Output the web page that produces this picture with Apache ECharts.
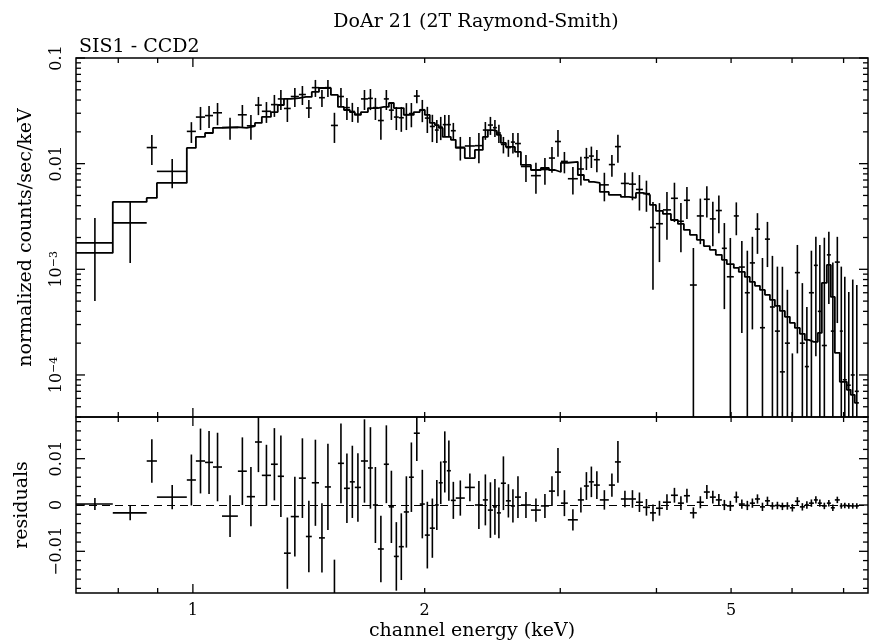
<!DOCTYPE html>
<html lang="en">
<head>
<meta charset="UTF-8" />
<title>DoAr 21 (2T Raymond-Smith)</title>
<script src="https://cdn.jsdelivr.net/npm/echarts@6/dist/echarts.min.js"></script>
<style>html, body { margin: 0; background: #fff; }</style>
</head>
<body>
<div id="main" style="width: 870px; height: 644px"></div>
<script type="text/javascript">
// Channel bin edges (keV), one more than the number of bins.
const edges = [0.705, 0.787, 0.871, 0.898, 0.982, 1.009, 1.037, 1.062, 1.091, 1.144,
  1.175, 1.204, 1.229, 1.263, 1.289, 1.313, 1.340, 1.373, 1.402, 1.427,
  1.458, 1.484, 1.511, 1.543, 1.571, 1.599, 1.623, 1.653, 1.688, 1.713,
  1.739, 1.770, 1.797, 1.824, 1.851, 1.879, 1.908, 1.936, 1.971, 2.001,
  2.031, 2.062, 2.086, 2.111, 2.137, 2.163, 2.195, 2.255, 2.324, 2.380,
  2.416, 2.453, 2.482, 2.512, 2.550, 2.588, 2.620, 2.667, 2.748, 2.831,
  2.900, 2.953, 3.006, 3.069, 3.162, 3.220, 3.268, 3.317, 3.377, 3.469,
  3.533, 3.596, 3.684, 3.762, 3.841, 3.923, 3.994, 4.078, 4.177, 4.265,
  4.342, 4.421, 4.513, 4.609, 4.692, 4.777, 4.864, 4.937, 5.041, 5.117,
  5.210, 5.288, 5.370, 5.451, 5.533, 5.616, 5.700, 5.786, 5.873, 5.961,
  6.051, 6.142, 6.234, 6.310, 6.405, 6.481, 6.559, 6.658, 6.738, 6.819,
  6.921, 6.983, 7.068, 7.151, 7.238, 7.326];

// Normalized counts/sec/keV per bin and its 1-sigma error.
const rate = [0.00178, 0.00275, 0.0142, 0.00845, 0.0202, 0.0276, 0.0285, 0.0303, 0.0220, 0.0290,
  0.0228, 0.0358, 0.0313, 0.0362, 0.0410, 0.0333, 0.0432, 0.0451, 0.0336, 0.0524,
  0.0421, 0.0524, 0.0230, 0.0432, 0.0339, 0.0312, 0.0294, 0.0410, 0.0415, 0.0339,
  0.0256, 0.0410, 0.0321, 0.0276, 0.0272, 0.0291, 0.0298, 0.0436, 0.0324, 0.0270,
  0.0225, 0.0208, 0.0222, 0.0234, 0.0234, 0.0205, 0.0143, 0.0147, 0.0148, 0.0208,
  0.0232, 0.0219, 0.0195, 0.0152, 0.0142, 0.0160, 0.0155, 0.0094, 0.0077, 0.0088,
  0.0113, 0.0162, 0.0105, 0.0072, 0.0089, 0.0114, 0.0118, 0.0109, 0.0063, 0.0098,
  0.0145, 0.0065, 0.0064, 0.0057, 0.0052, 0.00249, 0.0027, 0.00365, 0.0047, 0.00285,
  0.0045, 0.00071, 0.0032, 0.0046, 0.0030, 0.0036, 0.00158, 0.00085, 0.0032, 0.00105,
  0.0006, 0.00115, 0.0024, 0.00028, 0.00193, 0.00044, 0.00026, 0.000107, 0.0002, -0.0003,
  0.00093, 0.0002, 0.00012, 0.0006, 0.00109, 0.0004, 0.00019, 0.00137, 0.00026, 0.00117,
  0.00026, 0.00009, 0.00008, 0.0001, 0.00007];
const rateErr = [0.00128, 0.0016, 0.0045, 0.0026, 0.0045, 0.0068, 0.0067, 0.0072, 0.0052, 0.0069,
  0.0060, 0.0070, 0.0070, 0.0085, 0.0088, 0.0085, 0.0088, 0.0092, 0.0065, 0.0096,
  0.0077, 0.0096, 0.0073, 0.0088, 0.0080, 0.0064, 0.0050, 0.0088, 0.0094, 0.0080,
  0.0088, 0.0088, 0.0062, 0.0068, 0.0072, 0.0083, 0.0077, 0.0062, 0.0077, 0.0075,
  0.0065, 0.0051, 0.0055, 0.0055, 0.0055, 0.0038, 0.0036, 0.0032, 0.0047, 0.0040,
  0.0045, 0.0040, 0.0038, 0.0027, 0.0026, 0.0035, 0.0040, 0.0027, 0.0025, 0.0025,
  0.0031, 0.0046, 0.0024, 0.0021, 0.0027, 0.0027, 0.0027, 0.0026, 0.0019, 0.0023,
  0.0043, 0.0017, 0.0019, 0.0021, 0.0017, 0.00185, 0.00153, 0.00175, 0.0019, 0.0014,
  0.0015, 0.00088, 0.00147, 0.0015, 0.00135, 0.0014, 0.00116, 0.00113, 0.0011, 0.0008,
  0.0009, 0.00088, 0.0010, 0.0010, 0.00088, 0.0009, 0.0008, 0.00095, 0.00044, 0.00046,
  0.00077, 0.00054, 0.00032, 0.0009, 0.00094, 0.0013, 0.0018, 0.0009, 0.0009, 0.00086,
  0.0008, 0.00076, 0.00053, 0.0007, 0.00064];

// Folded 2T Raymond-Smith model per bin.
const model = [0.00143, 0.00434, 0.00474, 0.00657, 0.0141, 0.0179, 0.0195, 0.0218, 0.0222, 0.0218,
  0.0227, 0.0243, 0.0277, 0.0308, 0.0359, 0.0410, 0.0418, 0.0428, 0.0428, 0.0477,
  0.0520, 0.0520, 0.0447, 0.0344, 0.0322, 0.0308, 0.0289, 0.0308, 0.0336, 0.0336,
  0.0344, 0.0344, 0.0375, 0.0336, 0.0336, 0.0289, 0.0289, 0.0308, 0.0322, 0.0289,
  0.0243, 0.0232, 0.0218, 0.0179, 0.0179, 0.0168, 0.0141, 0.0113, 0.0135, 0.0179,
  0.0208, 0.0204, 0.0187, 0.0157, 0.0144, 0.0144, 0.0129, 0.00973, 0.00871, 0.00910,
  0.00871, 0.00834, 0.0102, 0.0104, 0.00781, 0.00701, 0.00671, 0.00657, 0.00540, 0.00506,
  0.00506, 0.00484, 0.00474, 0.00528, 0.00506, 0.00407, 0.00357, 0.00334, 0.00293, 0.00269,
  0.00236, 0.00212, 0.00190, 0.00166, 0.00153, 0.00137, 0.00123, 0.00112, 0.00103, 0.000944,
  0.000847, 0.000760, 0.000697, 0.000638, 0.000573, 0.000514, 0.000451, 0.000404, 0.000355, 0.000311,
  0.000279, 0.000245, 0.000215, 0.000206, 0.000206, 0.000250, 0.000743, 0.00110, 0.000548, 0.000162,
  0.0000861, 0.0000861, 0.0000723, 0.0000648, 0.0000545];

// Residuals (data - model) and their errors.
const resid = [0.0002, -0.0017, 0.0095, 0.0017, 0.0054, 0.0095, 0.0092, 0.0082, -0.0024, 0.0073,
  0.0018, 0.0136, 0.0064, 0.0088, 0.0062, -0.0104, -0.0025, 0.0058, -0.0068, 0.0048,
  -0.0071, 0.0039, -0.0195, 0.0090, 0.0036, 0.0050, 0.0038, 0.0095, 0.0080, 0.0000,
  -0.0095, 0.0088, -0.0004, -0.0111, -0.0090, -0.0015, 0.0060, 0.0155, 0.0002, -0.0065,
  -0.0050, 0.0000, 0.0048, 0.0093, 0.0074, 0.0010, 0.0015, 0.0038, 0.0000, 0.0011,
  -0.0011, -0.0004, -0.0017, 0.0047, 0.0009, -0.0002, 0.0017, 0.0000, -0.0011, -0.0002,
  0.0030, 0.0071, 0.0004, -0.0032, 0.0011, 0.0041, 0.0050, 0.0043, 0.0011, 0.0043,
  0.0093, 0.0013, 0.0013, 0.0006, -0.0005, -0.0017, -0.0007, 0.0006, 0.0021, 0.0004,
  0.0020, -0.0017, 0.0006, 0.0028, 0.0017, 0.0011, 0.0000, -0.0002, 0.0017, 0.0002,
  -0.0001, 0.0004, 0.0013, -0.0004, 0.0009, -0.0002, -0.0001, -0.0003, -0.0002, -0.0006,
  0.0008, -0.0004, 0.0000, 0.0004, 0.0011, 0.0004, -0.0002, 0.0004, -0.0006, 0.0011,
  -0.0002, -0.0001, -0.0002, -0.0002, -0.0002];
const residErr = [0.0013, 0.0016, 0.0047, 0.0026, 0.0055, 0.0070, 0.0068, 0.0074, 0.0045, 0.0073,
  0.0064, 0.0065, 0.0066, 0.0078, 0.0088, 0.0077, 0.0086, 0.0086, 0.0077, 0.0093,
  0.0075, 0.0093, 0.0077, 0.0086, 0.0075, 0.0078, 0.0074, 0.0090, 0.0088, 0.0082,
  0.0072, 0.0084, 0.0078, 0.0074, 0.0072, 0.0077, 0.0075, 0.0060, 0.0074, 0.0072,
  0.0064, 0.0054, 0.0046, 0.0066, 0.0065, 0.0040, 0.0038, 0.0030, 0.0052, 0.0055,
  0.0060, 0.0060, 0.0055, 0.0058, 0.0036, 0.0036, 0.0045, 0.0028, 0.0025, 0.0026,
  0.0032, 0.0052, 0.0028, 0.0023, 0.0027, 0.0030, 0.0033, 0.0030, 0.0021, 0.0025,
  0.0045, 0.0018, 0.0019, 0.0021, 0.0018, 0.0018, 0.0016, 0.0017, 0.0016, 0.0015,
  0.0015, 0.0012, 0.0013, 0.0015, 0.0014, 0.0013, 0.0011, 0.0011, 0.0012, 0.0010,
  0.0010, 0.0010, 0.0010, 0.0009, 0.0009, 0.0008, 0.0008, 0.0008, 0.0008, 0.0008,
  0.0009, 0.0008, 0.0008, 0.0008, 0.0008, 0.0008, 0.0007, 0.0007, 0.0007, 0.0007,
  0.0006, 0.0006, 0.0006, 0.0006, 0.0006];

// Axis ticks and labels.
const xMinorTicks = [0.8, 0.9, 2, 3, 4, 5, 6, 7];
const xMajorTicks = [1];
const xLabelVals = [1, 2, 5];
const xLabels = ['1', '2', '5'];
const yTopLabelVals = [1e-4, 1e-3, 0.01, 0.1];
const yTopLabels = ['{b|10}{s|−4}', '{b|10}{s|−3}', '0.01', '0.1'];
const yResLabelVals = [-0.01, 0, 0.01];
const yResLabels = ['−0.01', '0', '0.01'];

const X_MIN = 0.705, X_MAX = 7.53;
const Y_MIN = 4e-5, Y_MAX = 0.1;
const R_MIN = -0.019, R_MAX = 0.019;

const FONT = 'DejaVu Serif';
const ink = '#000';

// log-axis minor ticks 2..9 per decade, residual ticks every 0.002
const yTopTicks = [];
[-5, -4, -3, -2].forEach((e) => {
  for (let k = 1; k <= 9; k++) {
    const v = k * Math.pow(10, e);
    if (v >= Y_MIN && v <= Y_MAX * 1.0001) yTopTicks.push([v, k === 1 ? 9 : 5]);
  }
});
yTopTicks.push([0.1, 9]);
const yResTicks = [];
for (let i = -9; i <= 9; i++) yResTicks.push([+(i * 0.002).toFixed(3), i % 5 === 0 ? 9 : 5]);
const xTicks = xMinorTicks.map((v) => [v, 5]).concat(xMajorTicks.map((v) => [v, 9]));

function seg(x1, y1, x2, y2, w) {
  return { type: 'line', shape: { x1, y1, x2, y2 }, style: { stroke: ink, lineWidth: w || 1.3 } };
}

// ticks drawn inward on both sides of a grid
function tickSeries(grid, ticks, axis, lo, hi) {
  return {
    type: 'custom', xAxisIndex: grid, yAxisIndex: grid, silent: true, z: 5,
    data: ticks.map((t) => (axis === 'x' ? [t[0], lo, t[1]] : [lo, t[0], t[1]])),
    renderItem(params, api) {
      const len = api.value(2);
      if (axis === 'x') {
        const v = api.value(0);
        const a = api.coord([v, lo]), b = api.coord([v, hi]);
        return { type: 'group', children: [seg(a[0], a[1], a[0], a[1] - len), seg(b[0], b[1], b[0], b[1] + len)] };
      }
      const v = api.value(1);
      const a = api.coord([lo, v]), b = api.coord([hi, v]);
      return { type: 'group', children: [seg(a[0], a[1], a[0] + len, a[1]), seg(b[0], b[1], b[0] - len, b[1])] };
    }
  };
}

const labelRich = {
  b: { fontFamily: FONT, fontSize: 16, fill: ink },
  s: { fontFamily: FONT, fontSize: 11, fill: ink, verticalAlign: 'top' }
};

function yLabelSeries(grid, vals, labels, xAt) {
  return {
    type: 'custom', xAxisIndex: grid, yAxisIndex: grid, silent: true,
    data: vals.map((v, i) => [xAt, v, i]),
    renderItem(params, api) {
      const p = api.coord([xAt, api.value(1)]);
      return {
        type: 'text', x: p[0] - 11, y: p[1], rotation: Math.PI / 2,
        style: {
          text: labels[api.value(2)], fill: ink, fontFamily: FONT, fontSize: 16,
          align: 'center', verticalAlign: 'bottom', rich: labelRich
        }
      };
    }
  };
}

function crossRender(yLo, yHi) {
  return function (params, api) {
    const lo = api.value(0), hi = Math.min(api.value(1), X_MAX);
    const v = api.value(2), e = api.value(3);
    const xc = (lo + hi) / 2;
    const kids = [];
    const top = Math.min(v + e, yHi), bot = Math.max(v - e, yLo);
    if (top > yLo && bot < yHi) {
      const a = api.coord([xc, bot]), b = api.coord([xc, top]);
      kids.push(seg(a[0], a[1], b[0], b[1], 1.6));
    }
    if (v >= yLo && v <= yHi) {
      const a = api.coord([lo, v]), b = api.coord([hi, v]);
      kids.push(seg(a[0], a[1], b[0], b[1], 1.6));
    }
    return { type: 'group', children: kids };
  };
}

const rateData = rate.map((v, i) => [edges[i], edges[i + 1], v, rateErr[i]]);
const residData = resid.map((v, i) => [edges[i], edges[i + 1], v, residErr[i]]);
const modelData = edges.map((e, i) => [e, model[Math.min(i, model.length - 1)]]);

const nameStyle = { fontFamily: FONT, fontSize: 19, fontWeight: 'normal', color: ink };
const hidden = { axisLine: { show: false }, axisTick: { show: false }, axisLabel: { show: false }, splitLine: { show: false } };

const chart = echarts.init(document.getElementById('main'));
chart.setOption({
  animation: false,
  backgroundColor: '#fff',
  title: [
    { text: 'DoAr 21 (2T Raymond-Smith)', left: 471, textAlign: 'center', top: 8, textStyle: nameStyle },
    { text: 'SIS1 - CCD2', left: 74, top: 33, textStyle: nameStyle }
  ],
  grid: [
    { left: 76, top: 58, width: 792, height: 359, show: true, borderColor: ink, borderWidth: 1.5 },
    { left: 76, top: 417, width: 792, height: 176, show: true, borderColor: ink, borderWidth: 1.5 }
  ],
  xAxis: [
    Object.assign({ type: 'log', gridIndex: 0, min: X_MIN, max: X_MAX }, hidden),
    Object.assign({ type: 'log', gridIndex: 1, min: X_MIN, max: X_MAX, name: 'channel energy (keV)',
      nameLocation: 'middle', nameGap: 29, nameTextStyle: nameStyle }, hidden)
  ],
  yAxis: [
    Object.assign({ type: 'log', gridIndex: 0, min: Y_MIN, max: Y_MAX, name: 'normalized counts/sec/keV',
      nameLocation: 'middle', nameGap: 40, nameTextStyle: nameStyle }, hidden),
    Object.assign({ type: 'value', gridIndex: 1, min: R_MIN, max: R_MAX, name: 'residuals',
      nameLocation: 'middle', nameGap: 44, nameTextStyle: nameStyle }, hidden)
  ],
  series: [
    {
      type: 'line', xAxisIndex: 0, yAxisIndex: 0, step: 'end', symbol: 'none', silent: true,
      data: modelData, lineStyle: { color: ink, width: 1.8 }, z: 3
    },
    {
      type: 'custom', xAxisIndex: 0, yAxisIndex: 0, silent: true, z: 4,
      encode: { x: [0, 1], y: 2 }, data: rateData, renderItem: crossRender(Y_MIN, Y_MAX)
    },
    {
      type: 'custom', xAxisIndex: 1, yAxisIndex: 1, silent: true, z: 4,
      encode: { x: [0, 1], y: 2 }, data: residData, renderItem: crossRender(R_MIN, R_MAX),
      markLine: {
        silent: true, symbol: 'none', label: { show: false },
        lineStyle: { color: ink, type: [8, 5], width: 1.2 }, data: [{ yAxis: 0 }]
      }
    },
    tickSeries(0, xTicks, 'x', Y_MIN, Y_MAX),
    tickSeries(1, xTicks, 'x', R_MIN, R_MAX),
    tickSeries(0, yTopTicks, 'y', X_MIN, X_MAX),
    tickSeries(1, yResTicks, 'y', X_MIN, X_MAX),
    yLabelSeries(0, yTopLabelVals, yTopLabels, X_MIN),
    yLabelSeries(1, yResLabelVals, yResLabels, X_MIN),
    {
      type: 'custom', xAxisIndex: 1, yAxisIndex: 1, silent: true,
      data: xLabelVals.map((v, i) => [v, R_MIN, i]),
      renderItem(params, api) {
        const p = api.coord([api.value(0), R_MIN]);
        return {
          type: 'text', x: p[0], y: p[1] + 10,
          style: { text: xLabels[api.value(2)], fill: ink, fontFamily: FONT, fontSize: 16,
            align: 'center', verticalAlign: 'top' }
        };
      }
    }
  ]
});
</script>
</body>
</html>
